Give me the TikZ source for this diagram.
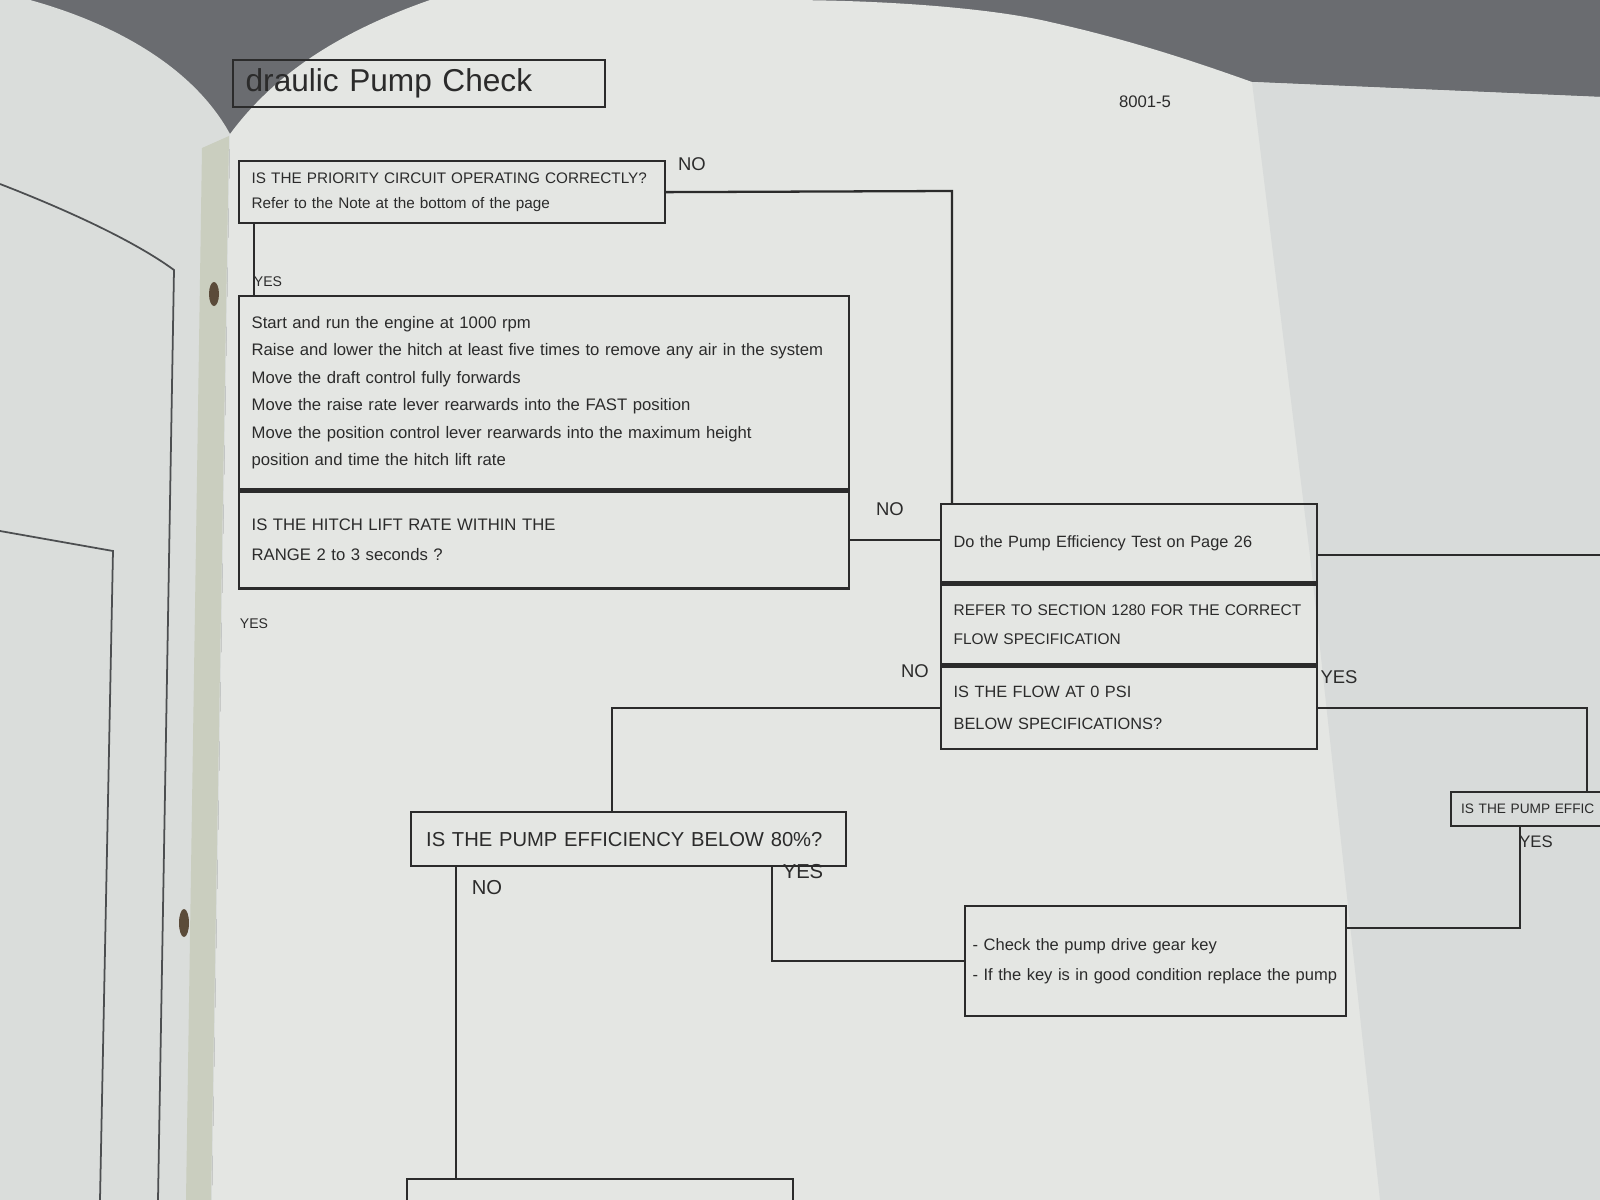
\documentclass[tikz,border=0pt]{standalone}
\usepackage{fontspec}
\setmainfont{Liberation Sans}
\usetikzlibrary{positioning, calc}
\definecolor{ink}{HTML}{2B2B2B}
\definecolor{paper}{HTML}{E4E6E3}
\definecolor{leftpg}{HTML}{DADDDB}
\definecolor{foldpg}{HTML}{D8DBDA}
\definecolor{backdrop}{HTML}{6A6C70}
\definecolor{gutter}{HTML}{CACEBF}
\definecolor{hole}{HTML}{5B4B3A}
\definecolor{pageline}{HTML}{4C4E50}

\begin{document}
\begin{tikzpicture}[
  x=0.02cm, y=-0.02cm,
  every node/.style={text=ink},
  box/.style={
    draw=ink, line width=1.3pt, align=left,
    inner xsep=0.25cm, inner ysep=0pt, anchor=north west,
    font=\fontsize{9.5}{15.6}\selectfont,
  },
  link/.style={ink, line width=1.3pt},
  sep/.style={ink, line width=2.8pt},
  yn/.style={font=\fontsize{10.5}{12}\selectfont, inner sep=0pt},
  smallyn/.style={font=\fontsize{8}{9}\selectfont, inner sep=0pt},
]

% === PAGES (background) ===
\useasboundingbox (0,0) rectangle (1600,1200);
\clip (0,0) rectangle (1600,1200);
\fill[backdrop] (0,0) rectangle (1600,1200);
\fill[leftpg] (30,0) .. controls (120,25) and (195,70) .. (230,134) -- (212,1200) -- (0,1200) -- (0,0) -- cycle;
\fill[paper] (230,134) .. controls (270,80) and (330,35) .. (430,0) -- (780,0)
  .. controls (900,0) and (1000,10) .. (1050,22)
  .. controls (1130,40) and (1190,60) .. (1252,82) -- (1600,97) -- (1600,1200) -- (212,1200) -- cycle;
\fill[foldpg] (1252,82) -- (1600,97) -- (1600,1200) -- (1380,1200) -- (1310,556) -- cycle;
\fill[gutter] (202,148) -- (229,136) -- (211,1200) -- (186,1200) -- cycle;
\fill[hole] (214,294) ellipse (5 and 12);
\fill[hole] (184,923) ellipse (5 and 14);
\draw[pageline, line width=1pt] (0,184) .. controls (80,215) and (140,245) .. (174,270) -- (158,1200);
\draw[pageline, line width=1pt] (0,531) -- (113,551) -- (100,1200);

% === TITLE ===
\node[box, minimum width=7.44cm, minimum height=0.94cm, text width=6.94cm,
  font=\fontsize{18}{20}\selectfont] (title) at (232,59) {draulic Pump Check};
\node[font=\fontsize{9.5}{11}\selectfont] (pgnum) at (1145,102) {8001-5};

% === HITCH CHECK (left) ===
\node[box, minimum width=8.52cm, minimum height=1.24cm, text width=8.02cm,
  font=\fontsize{8.7}{14}\selectfont] (prio) at (238,160)
  {IS THE PRIORITY CIRCUIT OPERATING CORRECTLY?\\Refer to the Note at the bottom of the page};

\node[box, minimum width=12.2cm, minimum height=3.86cm, text width=11.7cm] (steps) at (238,295)
  {Start and run the engine at 1000 rpm\\
   Raise and lower the hitch at least five times to remove any air in the system\\
   Move the draft control fully forwards\\
   Move the raise rate lever rearwards into the FAST position\\
   Move the position control lever rearwards into the maximum height\\
   position and time the hitch lift rate};

\node[box, below=0pt of steps, minimum width=12.2cm, minimum height=1.94cm, text width=11.7cm,
  font=\fontsize{9.5}{17}\selectfont] (hitch)
  {IS THE HITCH LIFT RATE WITHIN THE\\RANGE 2 to 3 seconds ?};
\draw[sep] (steps.south west) -- (steps.south east);

% === PUMP TEST COLUMN (right) ===
\node[box, minimum width=7.52cm, minimum height=1.56cm, text width=7.02cm,
  font=\fontsize{9.3}{12}\selectfont] (eff) at (940,503)
  {Do the Pump Efficiency Test on Page 26};
\node[box, below=0pt of eff, minimum width=7.52cm, minimum height=1.6cm, text width=7.02cm,
  font=\fontsize{8.8}{16.5}\selectfont] (refer)
  {REFER TO SECTION 1280 FOR THE CORRECT\\FLOW SPECIFICATION};
\node[box, below=0pt of refer, minimum width=7.52cm, minimum height=1.64cm, text width=7.02cm,
  font=\fontsize{9.3}{18.5}\selectfont] (flow)
  {IS THE FLOW AT 0 PSI\\BELOW SPECIFICATIONS?};
\draw[sep] (eff.south west) -- (eff.south east);
\draw[sep] (refer.south west) -- (refer.south east);

% === EFFICIENCY ===
\node[box, minimum width=8.7cm, minimum height=1.08cm, text width=8.1cm, inner xsep=0.3cm,
  font=\fontsize{11.5}{13}\selectfont] (pump80) at (410,811)
  {IS THE PUMP EFFICIENCY BELOW 80\%?};
\node[box, minimum width=6.4cm, minimum height=0.68cm, text width=6cm, inner xsep=0.12cm,
  font=\fontsize{7.8}{10}\selectfont] (peff) at (1450,791)
  {IS THE PUMP EFFIC};
\node[box, minimum width=7.62cm, minimum height=2.2cm, text width=7.32cm, inner xsep=0.15cm,
  font=\fontsize{9.4}{17}\selectfont] (check) at (964,905)
  {- Check the pump drive gear key\\- If the key is in good condition replace the pump};
\node[box, minimum width=7.72cm, minimum height=1.2cm] (next) at (406,1178) {};

% === CONNECTORS ===
\coordinate (prioTurn) at (952,191);
\draw[link] (prio.east) -- (prioTurn) -- (prioTurn |- eff.north);

\coordinate (prioYes) at (254,0);
\draw[link] (prio.south -| prioYes) -- (steps.north -| prioYes);

\draw[link] (hitch.east) -- (hitch.east -| eff.west);

\coordinate (pageR) at (1600,555);
\draw[link] (eff.east |- pageR) -- (pageR);

\coordinate (flowNo) at (612,0);
\draw[link] (flow.west) -| (flowNo |- pump80.north);

\coordinate (flowYes) at (1587,0);
\draw[link] (flow.east) -| (flowYes |- peff.north);

\coordinate (peffYes) at (1520,928);
\draw[link] (peff.south -| peffYes) -- (peffYes) -- (peffYes -| check.east);

\coordinate (pumpYes) at (772,961);
\draw[link] (pump80.south -| pumpYes) -- (pumpYes) -- (pumpYes -| check.west);

\coordinate (pumpNo) at (456,0);
\draw[link] (pump80.south -| pumpNo) -- (next.north -| pumpNo);

% YES / NO labels
\node[yn] (lPrioNo) at (692,164) {NO};
\node[smallyn] (lPrioYes) at (268,282) {YES};
\node[yn] (lHitchNo) at (890,509) {NO};
\node[smallyn] (lHitchYes) at (254,624) {YES};
\node[yn] (lFlowNo) at (915,671) {NO};
\node[yn] (lFlowYes) at (1339,677) {YES};
\node[yn, font=\fontsize{9.5}{11}\selectfont] (lPeffYes) at (1536,842) {YES};
\node[yn, font=\fontsize{11.5}{13}\selectfont] (lPumpNo) at (487,888) {NO};
\node[yn, font=\fontsize{11.5}{13}\selectfont] (lPumpYes) at (803,872) {YES};

\end{tikzpicture}
\end{document}
